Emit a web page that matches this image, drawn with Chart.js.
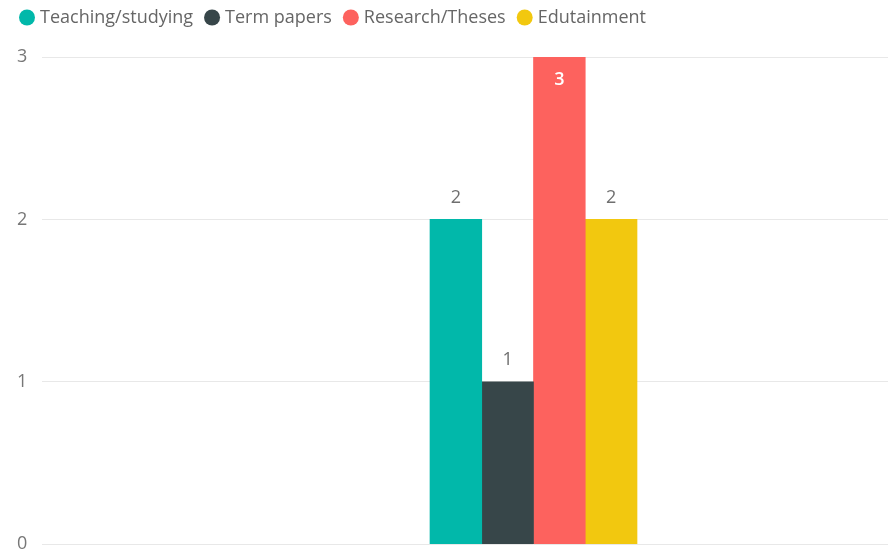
<!DOCTYPE html>
<html>
<head>
<meta charset="utf-8">
<style>
  html, body { margin: 0; padding: 0; background: #ffffff; overflow: hidden; }
  #wrap { width: 1025px; height: 555px; position: relative; }
</style>
<script src="https://cdn.jsdelivr.net/npm/chart.js@4/dist/chart.umd.min.js"></script>
</head>
<body>
<div id="wrap"><canvas id="chart" width="1025" height="555"></canvas></div>
<script>
// Purpose of use: counts per category
const categories = [''];
const seriesNames = ['Teaching/studying', 'Term papers', 'Research/Theses', 'Edutainment'];
const teaching = [2];
const termPapers = [1];
const research = [3];
const edutainment = [2];
const yTicks = [0, 1, 2, 3];
const colors = ['#01B8AA', '#374649', '#FD625E', '#F2C80F'];

const FONT = '"Open Sans", "Noto Sans", sans-serif';
const seriesValues = [teaching, termPapers, research, edutainment];

// Legend row: dot + name, left aligned along the top edge
const dotLegend = {
  id: 'dotLegend',
  afterDraw(chart) {
    const ctx = chart.ctx;
    ctx.save();
    ctx.font = '18px ' + FONT;
    ctx.textBaseline = 'middle';
    ctx.textAlign = 'left';
    let cx = 27;
    const cy = 17.5;
    chart.data.datasets.forEach(ds => {
      ctx.fillStyle = ds.backgroundColor;
      ctx.beginPath();
      ctx.arc(cx, cy, 8, 0, Math.PI * 2);
      ctx.fill();
      ctx.fillStyle = '#666666';
      const tx = cx + 13;
      ctx.fillText(ds.label, tx, cy + 0.5);
      cx = tx + ctx.measureText(ds.label).width + 19;
    });
    ctx.restore();
  }
};

// Value labels above each bar; inside the bar top when there is no room above
const valueLabels = {
  id: 'valueLabels',
  afterDatasetsDraw(chart) {
    const ctx = chart.ctx;
    const area = chart.chartArea;
    ctx.save();
    ctx.textAlign = 'center';
    ctx.textBaseline = 'middle';
    chart.data.datasets.forEach((ds, i) => {
      const meta = chart.getDatasetMeta(i);
      meta.data.forEach((bar, j) => {
        const v = ds.data[j];
        const above = bar.y - 21.5;
        if (above - 10 < area.top) {
          ctx.fillStyle = '#ffffff';
          ctx.font = '600 18px ' + FONT;
          ctx.fillText(String(v), bar.x, bar.y + 23);
        } else {
          ctx.fillStyle = '#6f6f6f';
          ctx.font = '18px ' + FONT;
          ctx.fillText(String(v), bar.x, above);
        }
      });
    });
    ctx.restore();
  }
};

new Chart(document.getElementById('chart'), {
  type: 'bar',
  data: {
    labels: categories,
    datasets: seriesNames.map((name, i) => ({
      label: name,
      data: seriesValues[i],
      backgroundColor: colors[i],
      borderWidth: 0,
      barThickness: 51.75
    }))
  },
  options: {
    responsive: false,
    animation: false,
    layout: { autoPadding: false, padding: { left: 17, right: 0, top: 57, bottom: 10 } },
    plugins: {
      legend: { display: false },
      tooltip: { enabled: false }
    },
    scales: {
      x: { display: false, grid: { display: false } },
      y: {
        min: 0,
        max: 3,
        afterBuildTicks(scale) {
          scale.ticks = yTicks.map(v => ({ value: v }));
        },
        afterFit(scale) { scale.width = 25; },
        border: { display: false },
        grid: { color: '#e8e8e8', lineWidth: 1, drawTicks: false, tickLength: 0 },
        ticks: {
          color: '#777777',
          padding: 0,
          crossAlign: 'far',
          font: { family: FONT, size: 18 }
        }
      }
    }
  },
  plugins: [valueLabels, dotLegend]
});
</script>
</body>
</html>
